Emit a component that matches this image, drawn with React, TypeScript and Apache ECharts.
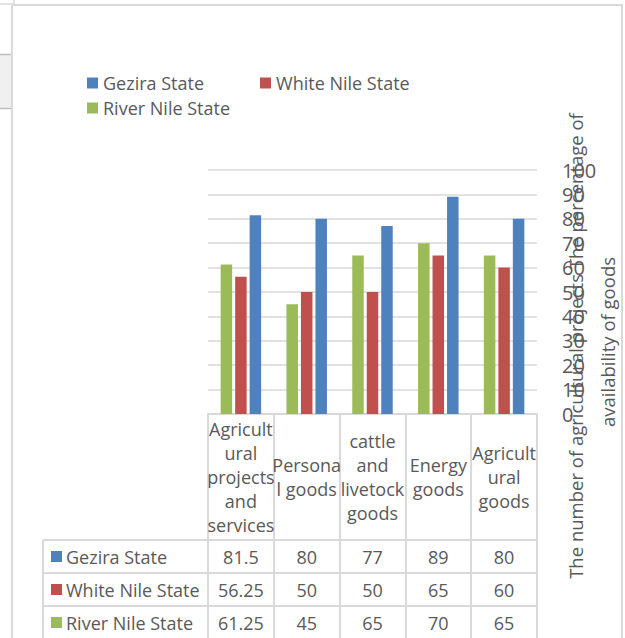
import React, { useEffect, useRef } from "react";
import * as echarts from "echarts";

const categories = [
  "Agricult\nural\nprojects\nand\nservices",
  "Persona\nl goods",
  "cattle\nand\nlivetock\ngoods",
  "Energy\ngoods",
  "Agricult\nural\ngoods",
];
const seriesNames = ["Gezira State", "White Nile State", "River Nile State"];
const gezira = [81.5, 80, 77, 89, 80];
const whiteNile = [56.25, 50, 50, 65, 60];
const riverNile = [61.25, 45, 65, 70, 65];
const yTicks = { min: 0, max: 100, interval: 10 };
const axisTitle1 = "The number of agricultural projects The percentage of";
const axisTitle2 = "availability of goods";

const COLORS: Record<string, string> = {
  "Gezira State": "#4f81bd",
  "White Nile State": "#c0504d",
  "River Nile State": "#9bbb59",
};
const FONT = '"Open Sans", "Noto Sans", sans-serif';
const TXT = "#595959";
const LINE = "#d9d9d9";

export default function App() {
  const ref = useRef<HTMLDivElement>(null);
  useEffect(() => {
    if (!ref.current) return;
    const chart = echarts.init(ref.current, undefined, { renderer: "svg" });
    const tableRows = [
      { name: seriesNames[0], values: gezira },
      { name: seriesNames[1], values: whiteNile },
      { name: seriesNames[2], values: riverNile },
    ];
    const gridBottomY = 414;
    const headerH = 126;
    const rowH = 33;
    const lineStyle = { color: LINE, width: 2 };

    const rowAxes = tableRows.map((r, i) => ({
      type: "category",
      data: categories,
      position: "bottom",
      offset: headerH + rowH * i,
      axisLine: { show: true, lineStyle },
      axisTick: { show: true, length: rowH, lineStyle },
      axisLabel: {
        interval: 0,
        fontSize: 18,
        color: TXT,
        fontFamily: FONT,
        margin: rowH / 2,
        verticalAlign: "middle",
        formatter: (_v: string, idx: number) => String(r.values[idx]),
      },
      splitLine: { show: false },
    }));

    const graphics: any[] = [
      {
        type: "rect",
        shape: { x: 12, y: 5, width: 610, height: 700 },
        style: { fill: "transparent", stroke: LINE, lineWidth: 2 },
        silent: true,
      },
      { type: "rect", shape: { x: 0, y: 55, width: 11, height: 53 }, style: { fill: "#f0f0f0" }, silent: true },
      { type: "line", shape: { x1: 0, y1: 54.5, x2: 11, y2: 54.5 }, style: { stroke: "#bfbfbf", lineWidth: 1.5 }, silent: true },
      { type: "line", shape: { x1: 0, y1: 108.5, x2: 11, y2: 108.5 }, style: { stroke: "#bfbfbf", lineWidth: 1.5 }, silent: true },
      { type: "line", shape: { x1: 0, y1: 4, x2: 14, y2: 4 }, style: { stroke: LINE, lineWidth: 1.5 }, silent: true },
      { type: "line", shape: { x1: 14, y1: 0, x2: 14, y2: 4 }, style: { stroke: LINE, lineWidth: 1.5 }, silent: true },
      { type: "line", shape: { x1: 43, y1: 540, x2: 43, y2: 640 }, style: { stroke: LINE, lineWidth: 2 }, silent: true },
      {
        type: "text",
        x: 575,
        y: 346,
        rotation: Math.PI / 2,
        style: { text: axisTitle1, fontSize: 18.5, fill: TXT, fontFamily: FONT, align: "center", verticalAlign: "middle" },
        silent: true,
      },
      {
        type: "text",
        x: 607,
        y: 342,
        rotation: Math.PI / 2,
        style: { text: axisTitle2, fontSize: 18.5, fill: TXT, fontFamily: FONT, align: "center", verticalAlign: "middle" },
        silent: true,
      },
    ];
    tableRows.forEach((r, i) => {
      const top = gridBottomY + headerH + rowH * i;
      const cy = top + rowH / 2;
      graphics.push({
        type: "line",
        shape: { x1: 43, y1: top, x2: 208, y2: top },
        style: { stroke: LINE, lineWidth: 2 },
        silent: true,
      });
      graphics.push({
        type: "rect",
        shape: { x: 51, y: cy - 5.5, width: 11, height: 11 },
        style: { fill: COLORS[r.name] },
        silent: true,
      });
      graphics.push({
        type: "text",
        x: 66,
        y: cy,
        style: { text: r.name, fontSize: 18, fill: TXT, fontFamily: FONT, align: "left", verticalAlign: "middle" },
        silent: true,
      });
    });

    const barCommon = { type: "bar", barWidth: 11.5, barGap: "26%", xAxisIndex: 0, yAxisIndex: 0 };
    const legendCommon = {
      icon: "rect",
      itemWidth: 11,
      itemHeight: 11,
      selectedMode: false,
      textStyle: { fontSize: 18, color: TXT, fontFamily: FONT },
      padding: 0,
    };

    chart.setOption({
      animation: false,
      textStyle: { fontFamily: FONT, color: TXT },
      grid: { left: 208, right: 88, top: 170, bottom: 638 - gridBottomY, containLabel: false },
      legend: [
        { ...legendCommon, data: [seriesNames[0], seriesNames[1]], left: 87, top: 74, itemGap: 56 },
        { ...legendCommon, data: [seriesNames[2]], left: 87, top: 99 },
      ],
      xAxis: [
        {
          type: "category",
          data: categories,
          position: "bottom",
          axisLine: { show: true, lineStyle },
          axisTick: { show: true, length: headerH, lineStyle },
          axisLabel: {
            interval: 0,
            fontSize: 18,
            lineHeight: 24,
            color: TXT,
            fontFamily: FONT,
            margin: headerH / 2,
            verticalAlign: "middle",
            align: "center",
          },
          splitLine: { show: false },
        },
        ...rowAxes,
      ],
      yAxis: {
        type: "value",
        position: "right",
        min: yTicks.min,
        max: yTicks.max,
        interval: yTicks.interval,
        axisLine: { show: false },
        axisTick: { show: false },
        axisLabel: { fontSize: 20, color: TXT, fontFamily: FONT, margin: 25, align: "left" },
        splitLine: { show: true, lineStyle: { color: LINE, width: 1.5 } },
      },
      series: [
        { ...barCommon, name: seriesNames[2], data: riverNile, itemStyle: { color: COLORS[seriesNames[2]] } },
        { ...barCommon, name: seriesNames[1], data: whiteNile, itemStyle: { color: COLORS[seriesNames[1]] } },
        { ...barCommon, name: seriesNames[0], data: gezira, itemStyle: { color: COLORS[seriesNames[0]] } },
      ],
      graphic: graphics,
    });
    return () => chart.dispose();
  }, []);
  return (
    <div
      ref={ref}
      style={{ position: "fixed", left: 0, top: 0, width: 625, height: 638, background: "#ffffff" }}
    />
  );
}
